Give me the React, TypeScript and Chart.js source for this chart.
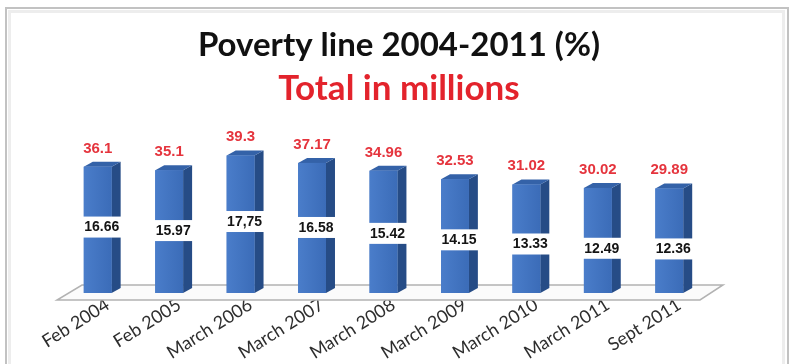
import React, { useEffect, useRef } from 'react';
import { Chart, registerables } from 'chart.js';

Chart.register(...registerables);

const categories = ['Feb 2004', 'Feb 2005', 'March 2006', 'March 2007', 'March 2008', 'March 2009', 'March 2010', 'March 2011', 'Sept 2011'];
const povertyPercent = [36.1, 35.1, 39.3, 37.17, 34.96, 32.53, 31.02, 30.02, 29.89];
const percentLabels = ['36.1', '35.1', '39.3', '37.17', '34.96', '32.53', '31.02', '30.02', '29.89'];
const totalMillions = [16.66, 15.97, 17.75, 16.58, 15.42, 14.15, 13.33, 12.49, 12.36];
const millionsLabels = ['16.66', '15.97', '17,75', '16.58', '15.42', '14.15', '13.33', '12.49', '12.36'];

const titleText = 'Poverty line 2004-2011 (%)';
const subtitleText = 'Total in millions';

const DX = 9;
const DY = 5;

const threeDPlugin = {
  id: 'pov3d',
  beforeDraw(chart: any) {
    const { ctx, width, height } = chart;
    ctx.save();
    ctx.fillStyle = '#ffffff';
    ctx.fillRect(0, 0, width, height);
    ctx.strokeStyle = '#ededed';
    ctx.lineWidth = 3;
    ctx.strokeRect(9.5, 11.5, width - 17, height + 10);
    ctx.strokeStyle = '#c2c2c2';
    ctx.lineWidth = 2;
    ctx.strokeRect(6, 8, width - 9, height + 10);
    ctx.textAlign = 'center';
    ctx.textBaseline = 'alphabetic';
    ctx.font = 'bold 33px Lato, sans-serif';
    ctx.fillStyle = '#111111';
    ctx.fillText(titleText, 399, 56);
    ctx.font = 'bold 35px Lato, sans-serif';
    ctx.fillStyle = '#e3232c';
    ctx.fillText(subtitleText, 399, 100);
    ctx.restore();
  },
  beforeDatasetsDraw(chart: any) {
    const { ctx, chartArea: a } = chart;
    const base = a.bottom;
    ctx.save();
    ctx.beginPath();
    ctx.moveTo(a.left - 5, base + 7);
    ctx.lineTo(a.right - 5, base + 7);
    ctx.lineTo(a.right + 18, base - 8);
    ctx.lineTo(a.left + 20, base - 8);
    ctx.closePath();
    ctx.fillStyle = '#fbfbfb';
    ctx.fill();
    ctx.strokeStyle = '#b2b2b2';
    ctx.lineWidth = 1.5;
    ctx.stroke();
    ctx.restore();
  },
  afterDatasetsDraw(chart: any) {
    const { ctx } = chart;
    const barMeta = chart.getDatasetMeta(0);
    const lineMeta = chart.getDatasetMeta(1);
    ctx.save();
    barMeta.data.forEach((el: any, i: number) => {
      const { x, y, base, width } = el.getProps(['x', 'y', 'base', 'width'], true);
      const l = x - width / 2;
      const r = x + width / 2;
      ctx.beginPath();
      ctx.moveTo(r, y);
      ctx.lineTo(r + DX, y - DY);
      ctx.lineTo(r + DX, base - DY);
      ctx.lineTo(r, base);
      ctx.closePath();
      ctx.fillStyle = '#264c86';
      ctx.fill();
      ctx.beginPath();
      ctx.moveTo(l, y);
      ctx.lineTo(l + DX, y - DY);
      ctx.lineTo(r + DX, y - DY);
      ctx.lineTo(r, y);
      ctx.closePath();
      ctx.fillStyle = '#3462a8';
      ctx.fill();
      const g = ctx.createLinearGradient(l, 0, r, 0);
      g.addColorStop(0, '#4a7dca');
      g.addColorStop(1, '#3b6cb8');
      ctx.fillStyle = g;
      ctx.fillRect(l, y, width, base - y);
      ctx.font = 'bold 15px "Liberation Sans", Arial, sans-serif';
      ctx.fillStyle = '#e5343d';
      ctx.textAlign = 'center';
      ctx.textBaseline = 'alphabetic';
      ctx.fillText(percentLabels[i], x, y - 14);
    });
    lineMeta.data.forEach((pt: any, i: number) => {
      const { x, y } = pt.getProps(['x', 'y'], true);
      ctx.fillStyle = '#ffffff';
      ctx.fillRect(x - 20, y - 10, 48, 21);
      ctx.font = 'bold 14px "Liberation Sans", Arial, sans-serif';
      ctx.fillStyle = '#141414';
      ctx.textAlign = 'center';
      ctx.textBaseline = 'middle';
      ctx.fillText(millionsLabels[i], x + 4, y + 1);
    });
    ctx.restore();
  },
};

export default function App() {
  const ref = useRef<HTMLCanvasElement | null>(null);
  useEffect(() => {
    if (!ref.current) return;
    const chart = new Chart(ref.current, {
      type: 'bar',
      data: {
        labels: categories,
        datasets: [
          {
            type: 'bar',
            label: 'Poverty line (%)',
            data: povertyPercent,
            backgroundColor: '#4072bf',
            borderWidth: 0,
            barPercentage: 0.39,
            categoryPercentage: 1,
            yAxisID: 'y',
          },
          {
            type: 'line',
            label: 'Total in millions',
            data: totalMillions,
            showLine: false,
            pointRadius: 0,
            borderWidth: 0,
            yAxisID: 'y2',
          } as any,
        ],
      },
      options: {
        animation: false,
        responsive: true,
        maintainAspectRatio: false,
        layout: { padding: { left: 62, right: 86, top: 118, bottom: 0 } },
        plugins: {
          legend: { display: false },
          tooltip: { enabled: false },
          title: { display: false },
        },
        scales: {
          x: {
            grid: { display: false, drawTicks: false },
            border: { display: false },
            ticks: {
              font: { family: 'Lato', size: 18 },
              color: '#2e2e2e',
              minRotation: 32,
              maxRotation: 32,
              padding: 1,
              labelOffset: 10,
            },
            afterFit: (s: any) => {
              s.height = 71;
            },
          },
          y: { display: false, min: 0, max: 50 },
          y2: { display: false, min: 3.6, max: 38, position: 'right' },
        },
      },
      plugins: [threeDPlugin],
    });
    return () => chart.destroy();
  }, []);
  return (
    <div style={{ position: 'fixed', left: 0, top: 0, width: 791, height: 364 }}>
      <canvas ref={ref} />
    </div>
  );
}
